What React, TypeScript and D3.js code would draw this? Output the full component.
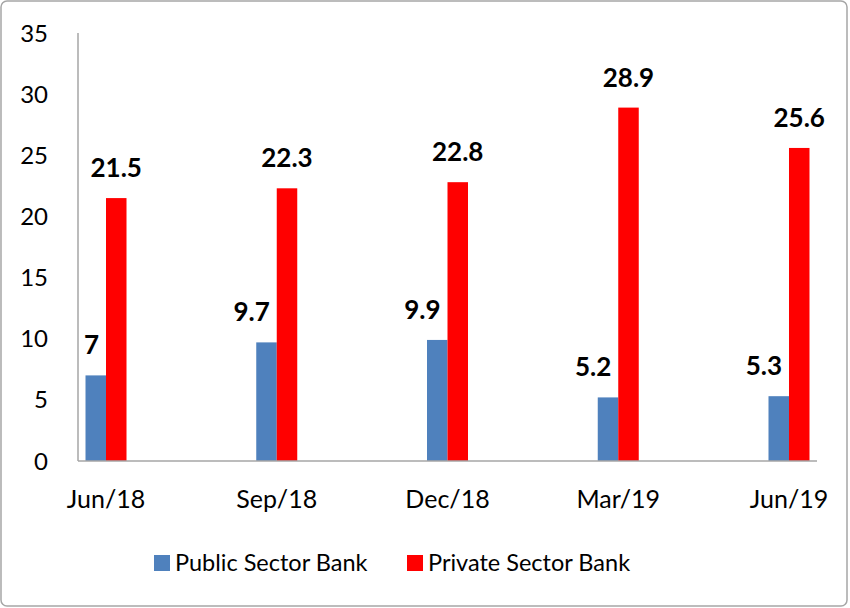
import * as d3 from 'd3';

const categories = ['Jun/18', 'Sep/18', 'Dec/18', 'Mar/19', 'Jun/19'];
const publicSector = [7, 9.7, 9.9, 5.2, 5.3];
const privateSector = [21.5, 22.3, 22.8, 28.9, 25.6];
const yTicks = [0, 5, 10, 15, 20, 25, 30, 35];
const seriesNames = ['Public Sector Bank', 'Private Sector Bank'];

const WIDTH = 850;
const HEIGHT = 608;
const PLOT = { left: 78, right: 817, top: 33, bottom: 461 };
const BAR_W = 20.5;
const BLUE = '#4f81bd';
const RED = '#ff0000';
const FONT = 'Lato, "Open Sans", sans-serif';

export default function App() {
  const x = d3.scalePoint<string>()
    .domain(categories)
    .range([PLOT.left, PLOT.right])
    .padding(0.164);

  const y = d3.scaleLinear().domain([0, 35]).range([PLOT.bottom, PLOT.top]);

  const fmt = (v: number) => String(v);

  return (
    <svg
      width={WIDTH}
      height={HEIGHT}
      style={{ position: 'absolute', left: 0, top: 0, display: 'block', background: '#fff' }}
      fontFamily={FONT}
    >
      <rect x={1} y={1} width={846} height={605} rx={6} fill="#fff" stroke="#a6a6a6" strokeWidth={1.5} />

      {/* y axis labels */}
      {yTicks.map((t) => (
        <text key={t} x={48} y={y(t)} dy="0.36em" textAnchor="end" fontSize={24} fill="#000">
          {t}
        </text>
      ))}

      {/* bars */}
      {categories.map((c, i) => {
        const cx = x(c) ?? 0;
        return (
          <g key={c}>
            <rect x={cx - BAR_W} y={y(publicSector[i])} width={BAR_W} height={PLOT.bottom - y(publicSector[i])} fill={BLUE} />
            <rect x={cx} y={y(privateSector[i])} width={BAR_W} height={PLOT.bottom - y(privateSector[i])} fill={RED} />
            <text
              x={cx - 7}
              y={y(publicSector[i]) - 21}
              textAnchor="end"
              fontSize={26}
              fontWeight="bold"
              fill="#000"
            >
              {fmt(publicSector[i])}
            </text>
            <text
              x={cx + BAR_W / 2}
              y={y(privateSector[i]) - 21}
              textAnchor="middle"
              fontSize={26}
              fontWeight="bold"
              fill="#000"
            >
              {fmt(privateSector[i])}
            </text>
            <text x={cx} y={508} textAnchor="middle" fontSize={25} fill="#000">
              {c}
            </text>
          </g>
        );
      })}

      {/* axes */}
      <line x1={PLOT.left} x2={PLOT.left} y1={PLOT.top} y2={PLOT.bottom} stroke="#a6a6a6" strokeWidth={1.5} />
      <line x1={PLOT.left} x2={PLOT.right} y1={PLOT.bottom} y2={PLOT.bottom} stroke="#a6a6a6" strokeWidth={1.5} />

      {/* legend */}
      <rect x={154} y={555} width={16} height={16} fill={BLUE} />
      <text x={175} y={571} fontSize={23.5} fill="#000">{seriesNames[0]}</text>
      <rect x={407} y={555} width={16} height={16} fill={RED} />
      <text x={428} y={571} fontSize={23.5} fill="#000">{seriesNames[1]}</text>
    </svg>
  );
}
